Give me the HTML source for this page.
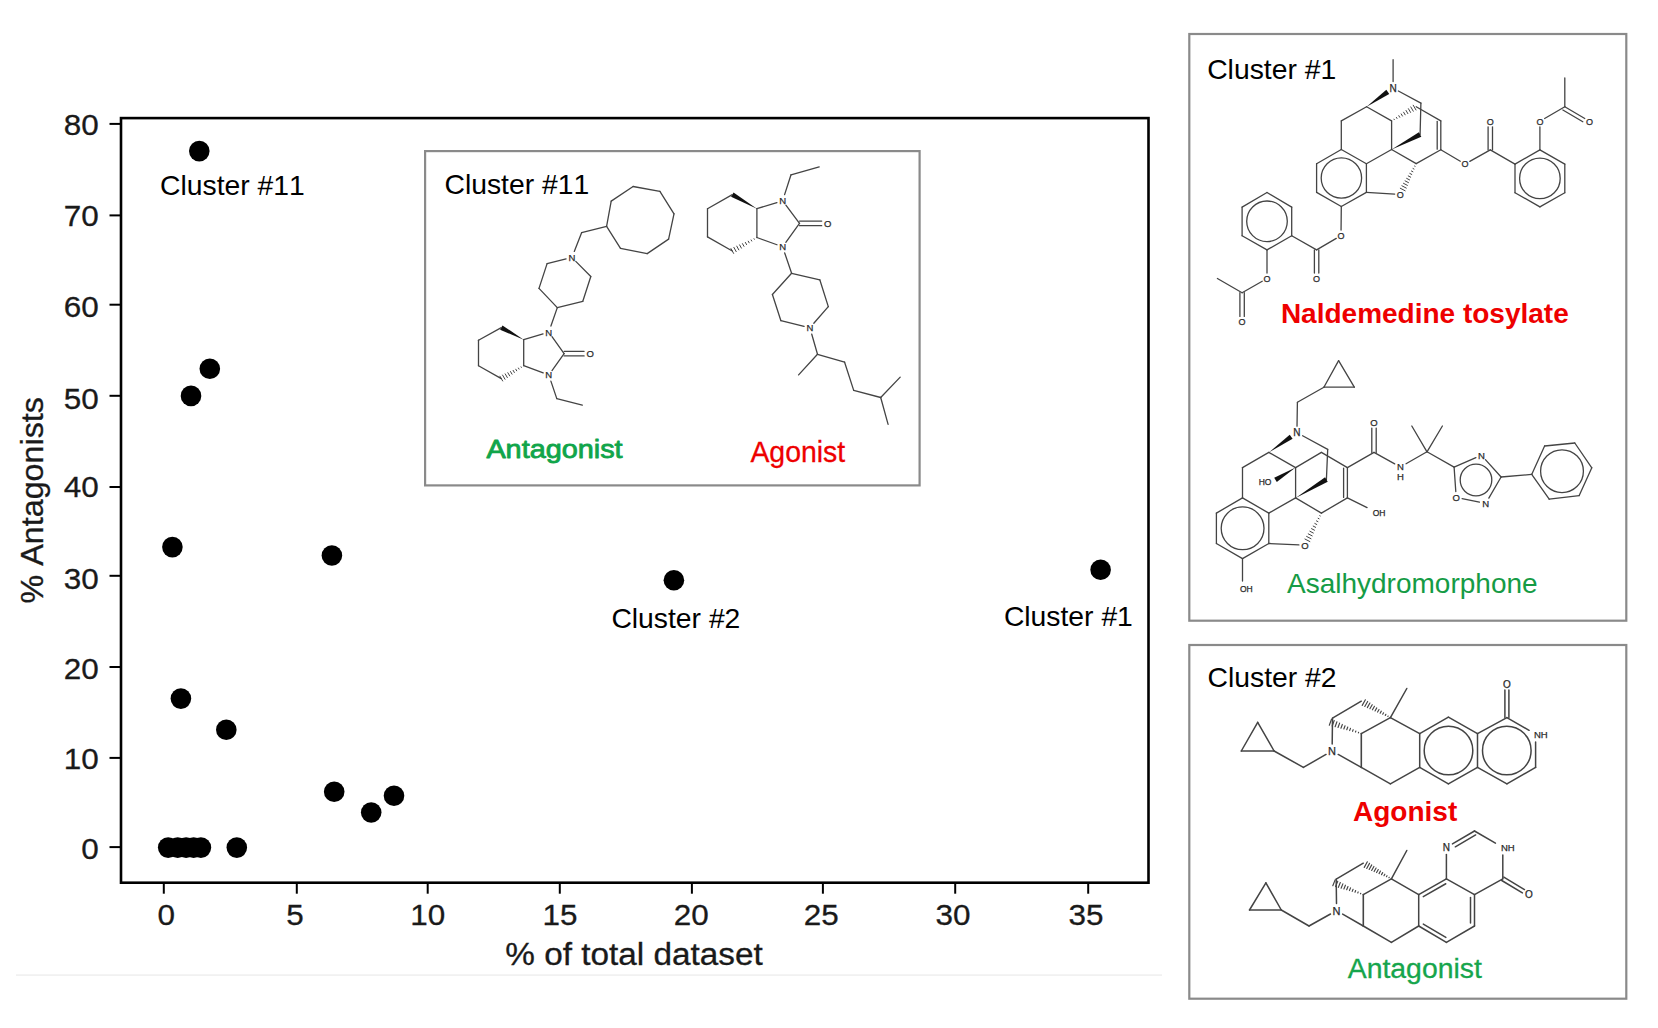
<!DOCTYPE html>
<html lang="en"><head><meta charset="utf-8"><title>Cluster analysis: % antagonists vs % of total dataset</title>
<style>html,body{margin:0;padding:0;background:#fff;}body{width:1658px;height:1028px;overflow:hidden;}svg{display:block;font-family:'Liberation Sans', sans-serif;font-kerning:none;}</style></head><body>
<svg width="1658" height="1028" viewBox="0 0 1658 1028" role="img" aria-label="Scatter plot of percent antagonists versus percent of total dataset with example molecules">
<rect x="0" y="0" width="1658" height="1028" fill="#fff"/>
<rect x="16" y="974.3" width="1146" height="1.6" fill="#f0f0f0"/>
<rect x="121" y="118.1" width="1027.5" height="764.6" fill="none" stroke="#000" stroke-width="2.6"/>
<g stroke="#000" stroke-width="2.0">
<line x1="163.8" y1="883.7" x2="163.8" y2="893.7"/>
<line x1="296.8" y1="883.7" x2="296.8" y2="893.7"/>
<line x1="427.7" y1="883.7" x2="427.7" y2="893.7"/>
<line x1="559.8" y1="883.7" x2="559.8" y2="893.7"/>
<line x1="691.9" y1="883.7" x2="691.9" y2="893.7"/>
<line x1="822.9" y1="883.7" x2="822.9" y2="893.7"/>
<line x1="955.2" y1="883.7" x2="955.2" y2="893.7"/>
<line x1="1088.2" y1="883.7" x2="1088.2" y2="893.7"/>
<line x1="120" y1="123.9" x2="109.5" y2="123.9"/>
<line x1="120" y1="215.4" x2="109.5" y2="215.4"/>
<line x1="120" y1="304.7" x2="109.5" y2="304.7"/>
<line x1="120" y1="395.8" x2="109.5" y2="395.8"/>
<line x1="120" y1="487" x2="109.5" y2="487"/>
<line x1="120" y1="575.8" x2="109.5" y2="575.8"/>
<line x1="120" y1="667" x2="109.5" y2="667"/>
<line x1="120" y1="757.9" x2="109.5" y2="757.9"/>
<line x1="120" y1="847.1" x2="109.5" y2="847.1"/>
</g>
<g>
<text x="157.45" y="925.2" font-size="30.3" fill="#1a1a1a" text-anchor="start" font-weight="normal" textLength="17.5" lengthAdjust="spacingAndGlyphs" stroke="#1a1a1a" stroke-width="0.3">0</text>
<text x="286.15" y="925.2" font-size="30.3" fill="#1a1a1a" text-anchor="start" font-weight="normal" textLength="17.5" lengthAdjust="spacingAndGlyphs" stroke="#1a1a1a" stroke-width="0.3">5</text>
<text x="410.2" y="925.2" font-size="30.3" fill="#1a1a1a" text-anchor="start" font-weight="normal" textLength="35" lengthAdjust="spacingAndGlyphs" stroke="#1a1a1a" stroke-width="0.3">10</text>
<text x="542.5" y="925.2" font-size="30.3" fill="#1a1a1a" text-anchor="start" font-weight="normal" textLength="35" lengthAdjust="spacingAndGlyphs" stroke="#1a1a1a" stroke-width="0.3">15</text>
<text x="673.7" y="925.2" font-size="30.3" fill="#1a1a1a" text-anchor="start" font-weight="normal" textLength="35" lengthAdjust="spacingAndGlyphs" stroke="#1a1a1a" stroke-width="0.3">20</text>
<text x="803.7" y="925.2" font-size="30.3" fill="#1a1a1a" text-anchor="start" font-weight="normal" textLength="35" lengthAdjust="spacingAndGlyphs" stroke="#1a1a1a" stroke-width="0.3">25</text>
<text x="935.6" y="925.2" font-size="30.3" fill="#1a1a1a" text-anchor="start" font-weight="normal" textLength="35" lengthAdjust="spacingAndGlyphs" stroke="#1a1a1a" stroke-width="0.3">30</text>
<text x="1068.6" y="925.2" font-size="30.3" fill="#1a1a1a" text-anchor="start" font-weight="normal" textLength="35" lengthAdjust="spacingAndGlyphs" stroke="#1a1a1a" stroke-width="0.3">35</text>
<text x="63.8" y="134.9" font-size="30.3" fill="#1a1a1a" text-anchor="start" font-weight="normal" textLength="35" lengthAdjust="spacingAndGlyphs" stroke="#1a1a1a" stroke-width="0.3">80</text>
<text x="63.8" y="226.1" font-size="30.3" fill="#1a1a1a" text-anchor="start" font-weight="normal" textLength="35" lengthAdjust="spacingAndGlyphs" stroke="#1a1a1a" stroke-width="0.3">70</text>
<text x="63.8" y="316.9" font-size="30.3" fill="#1a1a1a" text-anchor="start" font-weight="normal" textLength="35" lengthAdjust="spacingAndGlyphs" stroke="#1a1a1a" stroke-width="0.3">60</text>
<text x="63.8" y="408.5" font-size="30.3" fill="#1a1a1a" text-anchor="start" font-weight="normal" textLength="35" lengthAdjust="spacingAndGlyphs" stroke="#1a1a1a" stroke-width="0.3">50</text>
<text x="63.8" y="497.1" font-size="30.3" fill="#1a1a1a" text-anchor="start" font-weight="normal" textLength="35" lengthAdjust="spacingAndGlyphs" stroke="#1a1a1a" stroke-width="0.3">40</text>
<text x="63.8" y="588.5" font-size="30.3" fill="#1a1a1a" text-anchor="start" font-weight="normal" textLength="35" lengthAdjust="spacingAndGlyphs" stroke="#1a1a1a" stroke-width="0.3">30</text>
<text x="63.8" y="679" font-size="30.3" fill="#1a1a1a" text-anchor="start" font-weight="normal" textLength="35" lengthAdjust="spacingAndGlyphs" stroke="#1a1a1a" stroke-width="0.3">20</text>
<text x="63.8" y="768.9" font-size="30.3" fill="#1a1a1a" text-anchor="start" font-weight="normal" textLength="35" lengthAdjust="spacingAndGlyphs" stroke="#1a1a1a" stroke-width="0.3">10</text>
<text x="81.3" y="859.3" font-size="30.3" fill="#1a1a1a" text-anchor="start" font-weight="normal" textLength="17.5" lengthAdjust="spacingAndGlyphs" stroke="#1a1a1a" stroke-width="0.3">0</text>
</g>
<text x="505.3" y="964.5" font-size="30.6" fill="#1a1a1a" text-anchor="start" font-weight="normal" textLength="257.5" lengthAdjust="spacingAndGlyphs" stroke="#1a1a1a" stroke-width="0.3">% of total dataset</text>
<g transform="translate(43.2,603.5) rotate(-90)">
<text x="0" y="0" font-size="30.6" fill="#1a1a1a" text-anchor="start" font-weight="normal" textLength="206.5" lengthAdjust="spacingAndGlyphs" stroke="#1a1a1a" stroke-width="0.3">% Antagonists</text>
</g>
<g fill="#000">
<circle cx="199.3" cy="151.1" r="10.3"/>
<circle cx="209.8" cy="368.8" r="10.3"/>
<circle cx="191" cy="395.9" r="10.3"/>
<circle cx="172.4" cy="547.1" r="10.3"/>
<circle cx="331.9" cy="555.5" r="10.3"/>
<circle cx="673.9" cy="580.2" r="10.3"/>
<circle cx="1100.6" cy="569.7" r="10.3"/>
<circle cx="180.9" cy="698.6" r="10.3"/>
<circle cx="226.3" cy="729.8" r="10.3"/>
<circle cx="334.2" cy="791.7" r="10.3"/>
<circle cx="371.2" cy="812.5" r="10.3"/>
<circle cx="394" cy="795.7" r="10.3"/>
<circle cx="236.8" cy="847.6" r="10.3"/>
<circle cx="168.2" cy="847.6" r="10.3"/>
<circle cx="177.7" cy="847.6" r="10.3"/>
<circle cx="186.1" cy="847.6" r="10.3"/>
<circle cx="193.6" cy="847.6" r="10.3"/>
<circle cx="200.9" cy="847.6" r="10.3"/>
</g>
<text x="160.1" y="195.2" font-size="28.3" fill="#000" text-anchor="start" font-weight="normal">Cluster #11</text>
<text x="611.4" y="628" font-size="28.3" fill="#000" text-anchor="start" font-weight="normal">Cluster #2</text>
<text x="1003.9" y="625.5" font-size="28.3" fill="#000" text-anchor="start" font-weight="normal">Cluster #1</text>
<rect x="425.1" y="151.1" width="494.5" height="334.3" fill="#fff" stroke="#8a8a8a" stroke-width="2.2"/>
<rect x="1189.3" y="34" width="437" height="586.7" fill="#fff" stroke="#8a8a8a" stroke-width="2.2"/>
<rect x="1189.3" y="645" width="437" height="353.7" fill="#fff" stroke="#8a8a8a" stroke-width="2.2"/>
<text x="444.5" y="193.9" font-size="28.3" fill="#000" text-anchor="start" font-weight="normal">Cluster #11</text>
<text x="1207.2" y="79.1" font-size="28.3" fill="#000" text-anchor="start" font-weight="normal">Cluster #1</text>
<text x="1207.6" y="687.4" font-size="28.3" fill="#000" text-anchor="start" font-weight="normal">Cluster #2</text>
<g stroke="#444444" stroke-width="1.3" fill="none" stroke-linecap="round" stroke-linejoin="round">
<line x1="606.6" y1="226.4" x2="611.2" y2="201.1"/>
<line x1="611.2" y1="201.1" x2="633.1" y2="186.5"/>
<line x1="633.1" y1="186.5" x2="659.9" y2="191.4"/>
<line x1="659.9" y1="191.4" x2="674" y2="213.8"/>
<line x1="674" y1="213.8" x2="668.6" y2="239.1"/>
<line x1="668.6" y1="239.1" x2="647.2" y2="253.6"/>
<line x1="647.2" y1="253.6" x2="620.5" y2="248.3"/>
<line x1="620.5" y1="248.3" x2="606.6" y2="226.4"/>
<line x1="606.6" y1="226.4" x2="581.6" y2="232.7"/>
<line x1="581.6" y1="232.7" x2="574.27" y2="251.45"/>
<line x1="575.78" y1="261.4" x2="590.8" y2="276.5"/>
<line x1="590.8" y1="276.5" x2="582.8" y2="301.3"/>
<line x1="582.8" y1="301.3" x2="557.3" y2="307.6"/>
<line x1="557.3" y1="307.6" x2="539" y2="288.4"/>
<line x1="539" y1="288.4" x2="547.1" y2="263.6"/>
<line x1="547.1" y1="263.6" x2="566.07" y2="258.93"/>
<line x1="557.3" y1="307.6" x2="550.92" y2="326.06"/>
<line x1="552" y1="336.67" x2="564.1" y2="353.6"/>
<line x1="564.1" y1="353.6" x2="552" y2="370.53"/>
<line x1="543.17" y1="372.92" x2="523.7" y2="365.7"/>
<line x1="523.7" y1="365.7" x2="523.7" y2="339.7"/>
<line x1="523.7" y1="339.7" x2="543.05" y2="333.92"/>
<line x1="564.1" y1="351.3" x2="584.1" y2="351.3"/>
<line x1="564.1" y1="355.9" x2="584.1" y2="355.9"/>
<polygon points="523.7,339.7 502.49,325.4 500.11,329.8" fill="#111" stroke="none"/>
<line x1="501.3" y1="327.6" x2="478.5" y2="340.2"/>
<line x1="478.5" y1="340.2" x2="478.5" y2="365.7"/>
<line x1="478.5" y1="365.7" x2="501.3" y2="378.6"/>
<line x1="521.06" y1="366.87" x2="521.36" y2="367.4" stroke-width="1"/>
<line x1="518.42" y1="368.04" x2="519.03" y2="369.1" stroke-width="1"/>
<line x1="515.78" y1="369.21" x2="516.69" y2="370.79" stroke-width="1"/>
<line x1="513.13" y1="370.37" x2="514.35" y2="372.49" stroke-width="1"/>
<line x1="510.49" y1="371.54" x2="512.02" y2="374.19" stroke-width="1"/>
<line x1="507.85" y1="372.71" x2="509.68" y2="375.89" stroke-width="1"/>
<line x1="505.21" y1="373.88" x2="507.35" y2="377.59" stroke-width="1"/>
<line x1="502.57" y1="375.05" x2="505.01" y2="379.28" stroke-width="1"/>
<line x1="499.93" y1="376.22" x2="502.67" y2="380.98" stroke-width="1"/>
<line x1="550.89" y1="381.16" x2="556.8" y2="398.6"/>
<line x1="556.8" y1="398.6" x2="582.3" y2="405.1"/>
</g>
<g>
<text x="571.9" y="260.92" font-size="9.5" text-anchor="middle" fill="#2a2a2a" stroke="#2a2a2a" stroke-width="0.25">N</text>
<text x="548.8" y="335.62" font-size="9.5" text-anchor="middle" fill="#2a2a2a" stroke="#2a2a2a" stroke-width="0.25">N</text>
<text x="548.8" y="378.42" font-size="9.5" text-anchor="middle" fill="#2a2a2a" stroke="#2a2a2a" stroke-width="0.25">N</text>
<text x="590.1" y="357.02" font-size="9.5" text-anchor="middle" fill="#2a2a2a" stroke="#2a2a2a" stroke-width="0.25">O</text>
</g>
<g stroke="#444444" stroke-width="1.3" fill="none" stroke-linecap="round" stroke-linejoin="round">
<line x1="819.2" y1="166.9" x2="791" y2="174.8"/>
<line x1="791" y1="174.8" x2="784.6" y2="194.61"/>
<line x1="785.89" y1="205.2" x2="799.5" y2="223.4"/>
<line x1="799.5" y1="223.4" x2="785.82" y2="242.34"/>
<line x1="776.96" y1="244.76" x2="756.9" y2="237.5"/>
<line x1="756.9" y1="237.5" x2="756.9" y2="208.7"/>
<line x1="756.9" y1="208.7" x2="776.86" y2="202.56"/>
<line x1="799.5" y1="221.1" x2="821.7" y2="221.1"/>
<line x1="799.5" y1="225.7" x2="821.7" y2="225.7"/>
<polygon points="756.9,208.7 733.54,192.43 731.06,196.77" fill="#111" stroke="none"/>
<line x1="732.3" y1="194.6" x2="707.5" y2="208.7"/>
<line x1="707.5" y1="208.7" x2="707.5" y2="236.9"/>
<line x1="707.5" y1="236.9" x2="732.3" y2="251"/>
<line x1="754.02" y1="238.73" x2="754.31" y2="239.27" stroke-width="1"/>
<line x1="751.14" y1="239.96" x2="751.73" y2="241.04" stroke-width="1"/>
<line x1="748.26" y1="241.2" x2="749.14" y2="242.8" stroke-width="1"/>
<line x1="745.38" y1="242.43" x2="746.55" y2="244.57" stroke-width="1"/>
<line x1="742.5" y1="243.66" x2="743.97" y2="246.34" stroke-width="1"/>
<line x1="739.62" y1="244.89" x2="741.38" y2="248.11" stroke-width="1"/>
<line x1="736.74" y1="246.12" x2="738.8" y2="249.88" stroke-width="1"/>
<line x1="733.86" y1="247.36" x2="736.21" y2="251.64" stroke-width="1"/>
<line x1="730.98" y1="248.59" x2="733.62" y2="253.41" stroke-width="1"/>
<line x1="784.69" y1="252.95" x2="791.6" y2="273.3"/>
<line x1="791.6" y1="273.3" x2="819.8" y2="279.8"/>
<line x1="819.8" y1="279.8" x2="828.3" y2="306.6"/>
<line x1="828.3" y1="306.6" x2="813.83" y2="323.27"/>
<line x1="804.07" y1="326.37" x2="780.9" y2="320.7"/>
<line x1="780.9" y1="320.7" x2="772.4" y2="294.5"/>
<line x1="772.4" y1="294.5" x2="791.6" y2="273.3"/>
<line x1="811.69" y1="334.05" x2="817.5" y2="354.3"/>
<line x1="817.5" y1="354.3" x2="798.6" y2="374.9"/>
<line x1="817.5" y1="354.3" x2="844.6" y2="362.2"/>
<line x1="844.6" y1="362.2" x2="853.7" y2="390.4"/>
<line x1="853.7" y1="390.4" x2="880.7" y2="397.5"/>
<line x1="880.7" y1="397.5" x2="900.2" y2="377.1"/>
<line x1="880.7" y1="397.5" x2="888.1" y2="424.3"/>
</g>
<g>
<text x="782.6" y="204.22" font-size="9.5" text-anchor="middle" fill="#2a2a2a" stroke="#2a2a2a" stroke-width="0.25">N</text>
<text x="782.6" y="250.22" font-size="9.5" text-anchor="middle" fill="#2a2a2a" stroke="#2a2a2a" stroke-width="0.25">N</text>
<text x="809.9" y="331.22" font-size="9.5" text-anchor="middle" fill="#2a2a2a" stroke="#2a2a2a" stroke-width="0.25">N</text>
<text x="827.7" y="226.82" font-size="9.5" text-anchor="middle" fill="#2a2a2a" stroke="#2a2a2a" stroke-width="0.25">O</text>
</g>
<text x="486.4" y="457.8" font-size="26.5" fill="#10a54a" text-anchor="start" font-weight="normal" textLength="136.2" lengthAdjust="spacingAndGlyphs" stroke="#10a54a" stroke-width="0.85" stroke-linejoin="round">Antagonist</text>
<text x="750.4" y="461.8" font-size="28.6" fill="#ee0000" text-anchor="start" font-weight="normal" textLength="94.8" lengthAdjust="spacingAndGlyphs" stroke="#ee0000" stroke-width="0.3">Agonist</text>
<g stroke="#444444" stroke-width="1.3" fill="none" stroke-linecap="round" stroke-linejoin="round">
<line x1="1393.1" y1="59.7" x2="1393.1" y2="81.6"/>
<polygon points="1366.6,106.7 1389.22,93.88 1386.34,89.79" fill="#111" stroke="none"/>
<line x1="1366.6" y1="106.7" x2="1341.3" y2="120.9"/>
<line x1="1341.3" y1="120.9" x2="1341.3" y2="149.5"/>
<line x1="1341.3" y1="149.5" x2="1366.4" y2="163.7"/>
<line x1="1366.4" y1="163.7" x2="1366.4" y2="192.4"/>
<line x1="1366.4" y1="192.4" x2="1341.3" y2="206.5"/>
<line x1="1341.3" y1="206.5" x2="1316.6" y2="192.4"/>
<line x1="1316.6" y1="192.4" x2="1316.6" y2="163.7"/>
<line x1="1316.6" y1="163.7" x2="1341.3" y2="149.5"/>
<circle cx="1341.4" cy="178" r="20.2" fill="none"/>
<line x1="1366.6" y1="106.7" x2="1391.6" y2="120.9"/>
<line x1="1391.6" y1="120.9" x2="1391.6" y2="149.5"/>
<line x1="1391.6" y1="149.5" x2="1366.4" y2="163.7"/>
<line x1="1391.6" y1="149.5" x2="1416.2" y2="163.6"/>
<line x1="1394.31" y1="119.69" x2="1394" y2="119.16" stroke-width="1"/>
<line x1="1397.02" y1="118.47" x2="1396.41" y2="117.42" stroke-width="1"/>
<line x1="1399.73" y1="117.26" x2="1398.81" y2="115.67" stroke-width="1"/>
<line x1="1402.43" y1="116.05" x2="1401.21" y2="113.93" stroke-width="1"/>
<line x1="1405.14" y1="114.83" x2="1403.61" y2="112.19" stroke-width="1"/>
<line x1="1407.85" y1="113.62" x2="1406.02" y2="110.45" stroke-width="1"/>
<line x1="1410.56" y1="112.41" x2="1408.42" y2="108.7" stroke-width="1"/>
<line x1="1413.27" y1="111.19" x2="1410.82" y2="106.96" stroke-width="1"/>
<line x1="1415.98" y1="109.98" x2="1413.22" y2="105.22" stroke-width="1"/>
<line x1="1416.2" y1="106.7" x2="1440.8" y2="120.9"/>
<line x1="1440.8" y1="120.9" x2="1440.8" y2="149.7"/>
<line x1="1437.2" y1="121.4" x2="1437.2" y2="149.2"/>
<line x1="1440.8" y1="149.7" x2="1416.2" y2="163.6"/>
<line x1="1398.38" y1="90.95" x2="1420.9" y2="103.1"/>
<line x1="1420.9" y1="103.1" x2="1420.1" y2="134.5"/>
<polygon points="1391.6,149.5 1421.31,136.8 1418.89,132.2" fill="#111" stroke="none"/>
<line x1="1414.61" y1="166.07" x2="1415.1" y2="166.32" stroke-width="1"/>
<line x1="1413.02" y1="168.53" x2="1414" y2="169.04" stroke-width="1"/>
<line x1="1411.43" y1="171" x2="1412.89" y2="171.76" stroke-width="1"/>
<line x1="1409.84" y1="173.46" x2="1411.79" y2="174.47" stroke-width="1"/>
<line x1="1408.25" y1="175.93" x2="1410.69" y2="177.19" stroke-width="1"/>
<line x1="1406.66" y1="178.39" x2="1409.59" y2="179.91" stroke-width="1"/>
<line x1="1405.07" y1="180.86" x2="1408.48" y2="182.63" stroke-width="1"/>
<line x1="1403.48" y1="183.32" x2="1407.38" y2="185.35" stroke-width="1"/>
<line x1="1401.89" y1="185.79" x2="1406.28" y2="188.07" stroke-width="1"/>
<line x1="1400.3" y1="188.25" x2="1405.18" y2="190.79" stroke-width="1"/>
<line x1="1366.4" y1="192.4" x2="1394.71" y2="194.08"/>
<line x1="1341.3" y1="206.5" x2="1341.06" y2="230.1"/>
<line x1="1336.25" y1="238.38" x2="1316.6" y2="249.9"/>
<line x1="1318.8" y1="249.9" x2="1318.8" y2="273"/>
<line x1="1314.4" y1="249.9" x2="1314.4" y2="273"/>
<line x1="1316.6" y1="249.9" x2="1291.7" y2="235.7"/>
<line x1="1291.7" y1="235.7" x2="1291.7" y2="207.1"/>
<line x1="1291.7" y1="207.1" x2="1267" y2="192.5"/>
<line x1="1267" y1="192.5" x2="1242.1" y2="207.1"/>
<line x1="1242.1" y1="207.1" x2="1242.1" y2="235.7"/>
<line x1="1242.1" y1="235.7" x2="1267" y2="249.9"/>
<line x1="1267" y1="249.9" x2="1291.7" y2="235.7"/>
<circle cx="1267" cy="221.3" r="20.3" fill="none"/>
<line x1="1267" y1="249.9" x2="1267" y2="273"/>
<line x1="1262.22" y1="281.22" x2="1242.1" y2="292.7"/>
<line x1="1242.1" y1="292.7" x2="1217.4" y2="278.5"/>
<line x1="1244.3" y1="292.7" x2="1244.3" y2="316.4"/>
<line x1="1239.9" y1="292.7" x2="1239.9" y2="316.4"/>
<line x1="1440.8" y1="149.7" x2="1460.27" y2="161.29"/>
<line x1="1469.8" y1="161.41" x2="1490.3" y2="149.9"/>
<line x1="1488.1" y1="149.9" x2="1488.1" y2="126.8"/>
<line x1="1492.5" y1="149.9" x2="1492.5" y2="126.8"/>
<line x1="1490.3" y1="149.9" x2="1515" y2="164.1"/>
<line x1="1515" y1="164.1" x2="1539.9" y2="149.9"/>
<line x1="1539.9" y1="149.9" x2="1564.8" y2="164.1"/>
<line x1="1564.8" y1="164.1" x2="1564.8" y2="192.7"/>
<line x1="1564.8" y1="192.7" x2="1539.9" y2="206.9"/>
<line x1="1539.9" y1="206.9" x2="1515" y2="192.7"/>
<line x1="1515" y1="192.7" x2="1515" y2="164.1"/>
<circle cx="1539.9" cy="178.4" r="20.3" fill="none"/>
<line x1="1539.9" y1="149.9" x2="1539.9" y2="126.8"/>
<line x1="1544.64" y1="118.52" x2="1564.8" y2="106.7"/>
<line x1="1564.8" y1="106.7" x2="1564.8" y2="77.9"/>
<line x1="1564.8" y1="106.7" x2="1584.77" y2="118.5"/>
<line x1="1562.87" y1="109.97" x2="1582.83" y2="121.77"/>
</g>
<g>
<text x="1393.1" y="91.7" font-size="10" text-anchor="middle" fill="#2a2a2a" stroke="#2a2a2a" stroke-width="0.25">N</text>
<text x="1400.2" y="197.64" font-size="9" text-anchor="middle" fill="#2a2a2a" stroke="#2a2a2a" stroke-width="0.25">O</text>
<text x="1341" y="238.84" font-size="9" text-anchor="middle" fill="#2a2a2a" stroke="#2a2a2a" stroke-width="0.25">O</text>
<text x="1316.6" y="281.74" font-size="9" text-anchor="middle" fill="#2a2a2a" stroke="#2a2a2a" stroke-width="0.25">O</text>
<text x="1267" y="281.74" font-size="9" text-anchor="middle" fill="#2a2a2a" stroke="#2a2a2a" stroke-width="0.25">O</text>
<text x="1242.1" y="325.14" font-size="9" text-anchor="middle" fill="#2a2a2a" stroke="#2a2a2a" stroke-width="0.25">O</text>
<text x="1465" y="167.34" font-size="9" text-anchor="middle" fill="#2a2a2a" stroke="#2a2a2a" stroke-width="0.25">O</text>
<text x="1490.3" y="124.54" font-size="9" text-anchor="middle" fill="#2a2a2a" stroke="#2a2a2a" stroke-width="0.25">O</text>
<text x="1539.9" y="124.54" font-size="9" text-anchor="middle" fill="#2a2a2a" stroke="#2a2a2a" stroke-width="0.25">O</text>
<text x="1589.5" y="124.54" font-size="9" text-anchor="middle" fill="#2a2a2a" stroke="#2a2a2a" stroke-width="0.25">O</text>
</g>
<text x="1280.9" y="322.8" font-size="28" fill="#ee0000" text-anchor="start" font-weight="bold">Naldemedine tosylate</text>
<g stroke="#444444" stroke-width="1.3" fill="none" stroke-linecap="round" stroke-linejoin="round">
<line x1="1338.6" y1="360.6" x2="1323.9" y2="387.2"/>
<line x1="1323.9" y1="387.2" x2="1354.3" y2="387.2"/>
<line x1="1354.3" y1="387.2" x2="1338.6" y2="360.6"/>
<line x1="1323.9" y1="387.2" x2="1297.4" y2="402.3"/>
<line x1="1297.4" y1="402.3" x2="1297.01" y2="426.2"/>
<polygon points="1268.8,452.4 1292.6,438.77 1289.73,434.67" fill="#111" stroke="none"/>
<line x1="1268.8" y1="452.4" x2="1242.5" y2="467.6"/>
<line x1="1242.5" y1="467.6" x2="1242.5" y2="497.9"/>
<line x1="1242.5" y1="497.9" x2="1268.8" y2="513.1"/>
<line x1="1268.8" y1="513.1" x2="1268.8" y2="543.5"/>
<line x1="1268.8" y1="543.5" x2="1242.5" y2="558.6"/>
<line x1="1242.5" y1="558.6" x2="1216.4" y2="543.5"/>
<line x1="1216.4" y1="543.5" x2="1216.4" y2="513.1"/>
<line x1="1216.4" y1="513.1" x2="1242.5" y2="497.9"/>
<circle cx="1242.6" cy="528.3" r="21.4" fill="none"/>
<line x1="1268.8" y1="452.4" x2="1295.6" y2="467.6"/>
<line x1="1295.6" y1="467.6" x2="1295.6" y2="497.9"/>
<line x1="1295.6" y1="467.6" x2="1321.4" y2="452.4"/>
<line x1="1321.4" y1="452.4" x2="1347.4" y2="467.6"/>
<polygon points="1295.6,467.6 1274.2,477.66 1276.8,481.94" fill="#111" stroke="none"/>
<line x1="1347.4" y1="467.6" x2="1347.4" y2="497.9"/>
<line x1="1343.6" y1="468.1" x2="1343.6" y2="497.4"/>
<line x1="1347.4" y1="497.9" x2="1321.4" y2="513.1"/>
<line x1="1295.6" y1="497.9" x2="1321.4" y2="513.1"/>
<line x1="1295.6" y1="497.9" x2="1268.8" y2="513.1"/>
<line x1="1302.61" y1="435.8" x2="1327.7" y2="449.4"/>
<line x1="1327.7" y1="449.4" x2="1326.4" y2="479.6"/>
<polygon points="1295.6,497.9 1327.73,481.84 1325.07,477.36" fill="#111" stroke="none"/>
<line x1="1319.76" y1="515.7" x2="1320.25" y2="515.95" stroke-width="1"/>
<line x1="1318.11" y1="518.29" x2="1319.09" y2="518.79" stroke-width="1"/>
<line x1="1316.47" y1="520.89" x2="1317.94" y2="521.64" stroke-width="1"/>
<line x1="1314.83" y1="523.48" x2="1316.78" y2="524.49" stroke-width="1"/>
<line x1="1313.18" y1="526.08" x2="1315.63" y2="527.33" stroke-width="1"/>
<line x1="1311.54" y1="528.67" x2="1314.48" y2="530.18" stroke-width="1"/>
<line x1="1309.9" y1="531.27" x2="1313.32" y2="533.03" stroke-width="1"/>
<line x1="1308.25" y1="533.86" x2="1312.17" y2="535.87" stroke-width="1"/>
<line x1="1306.61" y1="536.46" x2="1311.01" y2="538.72" stroke-width="1"/>
<line x1="1304.97" y1="539.05" x2="1309.86" y2="541.57" stroke-width="1"/>
<line x1="1268.8" y1="543.5" x2="1298.91" y2="544.92"/>
<line x1="1347.4" y1="497.9" x2="1367.08" y2="507.58"/>
<line x1="1242.5" y1="558.6" x2="1242.5" y2="581"/>
<line x1="1347.4" y1="467.6" x2="1374" y2="452.4"/>
<line x1="1371.8" y1="452.4" x2="1371.8" y2="428.1"/>
<line x1="1376.2" y1="452.4" x2="1376.2" y2="428.1"/>
<line x1="1374" y1="452.4" x2="1394.71" y2="463.85"/>
<line x1="1406.04" y1="463.78" x2="1427" y2="451.8"/>
<line x1="1427" y1="451.8" x2="1411.8" y2="426"/>
<line x1="1427" y1="451.8" x2="1442.4" y2="426"/>
<line x1="1427" y1="451.8" x2="1454.1" y2="467.1"/>
<line x1="1454.1" y1="467.1" x2="1475.9" y2="457.6"/>
<line x1="1485.42" y1="459.65" x2="1501.1" y2="477"/>
<line x1="1501.1" y1="477" x2="1488.82" y2="498.11"/>
<line x1="1479.42" y1="502.05" x2="1462.09" y2="498.65"/>
<line x1="1455.79" y1="491.51" x2="1454.1" y2="467.1"/>
<circle cx="1476" cy="480" r="15.8" fill="none"/>
<line x1="1501.1" y1="477" x2="1531.7" y2="474.4"/>
<line x1="1531.7" y1="474.4" x2="1544.6" y2="446"/>
<line x1="1544.6" y1="446" x2="1574.8" y2="443"/>
<line x1="1574.8" y1="443" x2="1591.8" y2="467.8"/>
<line x1="1591.8" y1="467.8" x2="1579.2" y2="495.6"/>
<line x1="1579.2" y1="495.6" x2="1549.2" y2="499.2"/>
<line x1="1549.2" y1="499.2" x2="1531.7" y2="474.4"/>
<circle cx="1562" cy="471.2" r="21.4" fill="none"/>
</g>
<g>
<text x="1296.9" y="436.3" font-size="10" text-anchor="middle" fill="#2a2a2a" stroke="#2a2a2a" stroke-width="0.25">N</text>
<text x="1304.9" y="548.62" font-size="9.5" text-anchor="middle" fill="#2a2a2a" stroke="#2a2a2a" stroke-width="0.25">O</text>
<text x="1265" y="485.36" font-size="8.5" text-anchor="middle" fill="#2a2a2a" stroke="#2a2a2a" stroke-width="0.25">HO</text>
<text x="1379" y="516.16" font-size="8.5" text-anchor="middle" fill="#2a2a2a" stroke="#2a2a2a" stroke-width="0.25">OH</text>
<text x="1246.3" y="591.86" font-size="8.5" text-anchor="middle" fill="#2a2a2a" stroke="#2a2a2a" stroke-width="0.25">OH</text>
<text x="1374" y="425.52" font-size="9.5" text-anchor="middle" fill="#2a2a2a" stroke="#2a2a2a" stroke-width="0.25">O</text>
<text x="1400.4" y="470.42" font-size="9.5" text-anchor="middle" fill="#2a2a2a" stroke="#2a2a2a" stroke-width="0.25">N</text>
<text x="1400.4" y="479.82" font-size="9.5" text-anchor="middle" fill="#2a2a2a" stroke="#2a2a2a" stroke-width="0.25">H</text>
<text x="1481.4" y="458.62" font-size="9.5" text-anchor="middle" fill="#2a2a2a" stroke="#2a2a2a" stroke-width="0.25">N</text>
<text x="1485.8" y="506.72" font-size="9.5" text-anchor="middle" fill="#2a2a2a" stroke="#2a2a2a" stroke-width="0.25">N</text>
<text x="1456.2" y="500.92" font-size="9.5" text-anchor="middle" fill="#2a2a2a" stroke="#2a2a2a" stroke-width="0.25">O</text>
</g>
<text x="1287" y="593.2" font-size="28" fill="#159b45" text-anchor="start" font-weight="normal">Asalhydromorphone</text>
<g stroke="#444444" stroke-width="1.5" fill="none" stroke-linecap="round" stroke-linejoin="round">
<line x1="1257.7" y1="722.3" x2="1241.3" y2="751"/>
<line x1="1241.3" y1="751" x2="1274.1" y2="751"/>
<line x1="1274.1" y1="751" x2="1257.7" y2="722.3"/>
<line x1="1274.1" y1="751" x2="1303.4" y2="767.4"/>
<line x1="1303.4" y1="767.4" x2="1326.02" y2="754.47"/>
<line x1="1338.2" y1="754.43" x2="1361.3" y2="767.4"/>
<line x1="1361.3" y1="767.4" x2="1361.3" y2="733.6" stroke-width="1.6"/>
<line x1="1361.3" y1="733.6" x2="1390.4" y2="717.6"/>
<line x1="1390.4" y1="717.6" x2="1406.8" y2="688.5"/>
<line x1="1332.19" y1="744" x2="1332.5" y2="718.2"/>
<line x1="1332.5" y1="718.2" x2="1361.3" y2="701.2"/>
<line x1="1388.12" y1="715.98" x2="1387.84" y2="716.49" stroke-width="1.15"/>
<line x1="1385.85" y1="714.37" x2="1385.28" y2="715.38" stroke-width="1.15"/>
<line x1="1383.57" y1="712.75" x2="1382.72" y2="714.27" stroke-width="1.15"/>
<line x1="1381.3" y1="711.13" x2="1380.16" y2="713.16" stroke-width="1.15"/>
<line x1="1379.02" y1="709.51" x2="1377.59" y2="712.05" stroke-width="1.15"/>
<line x1="1376.75" y1="707.9" x2="1375.03" y2="710.94" stroke-width="1.15"/>
<line x1="1374.47" y1="706.28" x2="1372.47" y2="709.83" stroke-width="1.15"/>
<line x1="1372.2" y1="704.66" x2="1369.91" y2="708.72" stroke-width="1.15"/>
<line x1="1369.92" y1="703.05" x2="1367.35" y2="707.61" stroke-width="1.15"/>
<line x1="1367.65" y1="701.43" x2="1364.79" y2="706.5" stroke-width="1.15"/>
<line x1="1365.37" y1="699.81" x2="1362.23" y2="705.39" stroke-width="1.15"/>
<line x1="1358.59" y1="732.29" x2="1358.39" y2="732.84" stroke-width="1.15"/>
<line x1="1355.88" y1="730.98" x2="1355.48" y2="732.07" stroke-width="1.15"/>
<line x1="1353.17" y1="729.67" x2="1352.57" y2="731.31" stroke-width="1.15"/>
<line x1="1350.47" y1="728.36" x2="1349.66" y2="730.55" stroke-width="1.15"/>
<line x1="1347.76" y1="727.05" x2="1346.75" y2="729.78" stroke-width="1.15"/>
<line x1="1345.05" y1="725.74" x2="1343.84" y2="729.02" stroke-width="1.15"/>
<line x1="1342.34" y1="724.43" x2="1340.93" y2="728.26" stroke-width="1.15"/>
<line x1="1339.63" y1="723.13" x2="1338.02" y2="727.49" stroke-width="1.15"/>
<line x1="1336.92" y1="721.82" x2="1335.11" y2="726.73" stroke-width="1.15"/>
<line x1="1334.22" y1="720.51" x2="1332.2" y2="725.97" stroke-width="1.15"/>
<line x1="1331.51" y1="719.2" x2="1329.29" y2="725.2" stroke-width="1.15"/>
<line x1="1390.4" y1="717.6" x2="1419.7" y2="733.6"/>
<line x1="1361.3" y1="767.4" x2="1390.4" y2="783.8"/>
<line x1="1390.4" y1="783.8" x2="1419.7" y2="767.4"/>
<line x1="1419.7" y1="733.6" x2="1448.4" y2="717.2"/>
<line x1="1448.4" y1="717.2" x2="1477.5" y2="733.6"/>
<line x1="1477.5" y1="733.6" x2="1477.5" y2="767.4"/>
<line x1="1477.5" y1="767.4" x2="1448.4" y2="783.8"/>
<line x1="1448.4" y1="783.8" x2="1419.7" y2="767.4"/>
<line x1="1419.7" y1="767.4" x2="1419.7" y2="733.6"/>
<circle cx="1448.5" cy="750.5" r="24.3" fill="none"/>
<line x1="1477.5" y1="733.6" x2="1506.9" y2="717.6"/>
<line x1="1506.9" y1="717.6" x2="1529.09" y2="730.28"/>
<line x1="1535.6" y1="742" x2="1535.6" y2="767.4"/>
<line x1="1535.6" y1="767.4" x2="1506.9" y2="783.8"/>
<line x1="1506.9" y1="783.8" x2="1477.5" y2="767.4"/>
<circle cx="1506.8" cy="750.5" r="24.3" fill="none"/>
<line x1="1504.9" y1="717.6" x2="1504.9" y2="689.9"/>
<line x1="1508.9" y1="717.6" x2="1508.9" y2="689.9"/>
</g>
<g>
<text x="1332.1" y="754.96" font-size="11" text-anchor="middle" fill="#2a2a2a" stroke="#2a2a2a" stroke-width="0.25">N</text>
<text x="1506.9" y="687.5" font-size="10" text-anchor="middle" fill="#2a2a2a" stroke="#2a2a2a" stroke-width="0.25">O</text>
<text x="1540.8" y="738.02" font-size="9.5" text-anchor="middle" fill="#2a2a2a" stroke="#2a2a2a" stroke-width="0.25">NH</text>
</g>
<text x="1353" y="821.4" font-size="28" fill="#ee0000" text-anchor="start" font-weight="bold">Agonist</text>
<g stroke="#444444" stroke-width="1.5" fill="none" stroke-linecap="round" stroke-linejoin="round">
<line x1="1265.9" y1="882.9" x2="1249.5" y2="910"/>
<line x1="1249.5" y1="910" x2="1281.3" y2="910"/>
<line x1="1281.3" y1="910" x2="1265.9" y2="882.9"/>
<line x1="1281.3" y1="910" x2="1309" y2="926"/>
<line x1="1309" y1="926" x2="1330.49" y2="914.01"/>
<line x1="1342.66" y1="914.1" x2="1363.3" y2="926"/>
<line x1="1363.3" y1="926" x2="1363.3" y2="894.6" stroke-width="1.6"/>
<line x1="1363.3" y1="894.6" x2="1391.4" y2="878.8"/>
<line x1="1391.4" y1="878.8" x2="1406.8" y2="850.5"/>
<line x1="1336.51" y1="903.6" x2="1336.2" y2="879.2"/>
<line x1="1336.2" y1="879.2" x2="1363.3" y2="863.2"/>
<line x1="1389.21" y1="877.25" x2="1388.93" y2="877.76" stroke-width="1.15"/>
<line x1="1387.03" y1="875.71" x2="1386.46" y2="876.73" stroke-width="1.15"/>
<line x1="1384.84" y1="874.16" x2="1383.99" y2="875.69" stroke-width="1.15"/>
<line x1="1382.66" y1="872.62" x2="1381.53" y2="874.65" stroke-width="1.15"/>
<line x1="1380.47" y1="871.07" x2="1379.06" y2="873.62" stroke-width="1.15"/>
<line x1="1378.28" y1="869.53" x2="1376.59" y2="872.58" stroke-width="1.15"/>
<line x1="1376.1" y1="867.98" x2="1374.12" y2="871.54" stroke-width="1.15"/>
<line x1="1373.91" y1="866.44" x2="1371.65" y2="870.51" stroke-width="1.15"/>
<line x1="1371.72" y1="864.89" x2="1369.18" y2="869.47" stroke-width="1.15"/>
<line x1="1369.54" y1="863.35" x2="1366.72" y2="868.43" stroke-width="1.15"/>
<line x1="1367.35" y1="861.8" x2="1364.25" y2="867.4" stroke-width="1.15"/>
<line x1="1360.75" y1="893.26" x2="1360.53" y2="893.8" stroke-width="1.15"/>
<line x1="1358.19" y1="891.91" x2="1357.76" y2="892.99" stroke-width="1.15"/>
<line x1="1355.64" y1="890.57" x2="1354.98" y2="892.19" stroke-width="1.15"/>
<line x1="1353.08" y1="889.23" x2="1352.21" y2="891.39" stroke-width="1.15"/>
<line x1="1350.53" y1="887.89" x2="1349.44" y2="890.59" stroke-width="1.15"/>
<line x1="1347.97" y1="886.54" x2="1346.67" y2="889.78" stroke-width="1.15"/>
<line x1="1345.42" y1="885.2" x2="1343.89" y2="888.98" stroke-width="1.15"/>
<line x1="1342.86" y1="883.86" x2="1341.12" y2="888.18" stroke-width="1.15"/>
<line x1="1340.31" y1="882.52" x2="1338.35" y2="887.37" stroke-width="1.15"/>
<line x1="1337.75" y1="881.17" x2="1335.58" y2="886.57" stroke-width="1.15"/>
<line x1="1335.2" y1="879.83" x2="1332.8" y2="885.77" stroke-width="1.15"/>
<line x1="1391.4" y1="878.8" x2="1418.7" y2="894.6"/>
<line x1="1363.3" y1="926" x2="1391.4" y2="942.4"/>
<line x1="1391.4" y1="942.4" x2="1418.7" y2="926"/>
<line x1="1418.7" y1="894.6" x2="1446.4" y2="878.8"/>
<line x1="1423.29" y1="896.59" x2="1445.78" y2="883.76"/>
<line x1="1446.4" y1="878.8" x2="1474.5" y2="894.6"/>
<line x1="1474.5" y1="894.6" x2="1474.5" y2="926"/>
<line x1="1470.5" y1="897.6" x2="1470.5" y2="923"/>
<line x1="1474.5" y1="926" x2="1446.4" y2="942.4"/>
<line x1="1446.4" y1="942.4" x2="1418.7" y2="926"/>
<line x1="1445.86" y1="937.43" x2="1423.32" y2="924.09"/>
<line x1="1418.7" y1="926" x2="1418.7" y2="894.6"/>
<line x1="1446.4" y1="878.8" x2="1446.4" y2="854.4"/>
<line x1="1452.45" y1="843.87" x2="1474.5" y2="831"/>
<line x1="1455.33" y1="846.82" x2="1475.65" y2="834.96"/>
<line x1="1474.5" y1="831" x2="1495.45" y2="843.14"/>
<line x1="1502.8" y1="854.9" x2="1502.8" y2="878.8"/>
<line x1="1502.8" y1="878.8" x2="1474.5" y2="894.6"/>
<line x1="1503.83" y1="877.09" x2="1524.47" y2="889.53"/>
<line x1="1501.77" y1="880.51" x2="1522.4" y2="892.96"/>
</g>
<g>
<text x="1336.6" y="914.56" font-size="11" text-anchor="middle" fill="#2a2a2a" stroke="#2a2a2a" stroke-width="0.25">N</text>
<text x="1446.4" y="851" font-size="10" text-anchor="middle" fill="#2a2a2a" stroke="#2a2a2a" stroke-width="0.25">N</text>
<text x="1507.8" y="851.02" font-size="9.5" text-anchor="middle" fill="#2a2a2a" stroke="#2a2a2a" stroke-width="0.25">NH</text>
<text x="1529" y="898.2" font-size="10" text-anchor="middle" fill="#2a2a2a" stroke="#2a2a2a" stroke-width="0.25">O</text>
</g>
<text x="1347.7" y="977.6" font-size="28.4" fill="#16a54c" text-anchor="start" font-weight="normal" textLength="134.2" lengthAdjust="spacingAndGlyphs" stroke="#16a54c" stroke-width="0.3">Antagonist</text>
</svg></body></html>
